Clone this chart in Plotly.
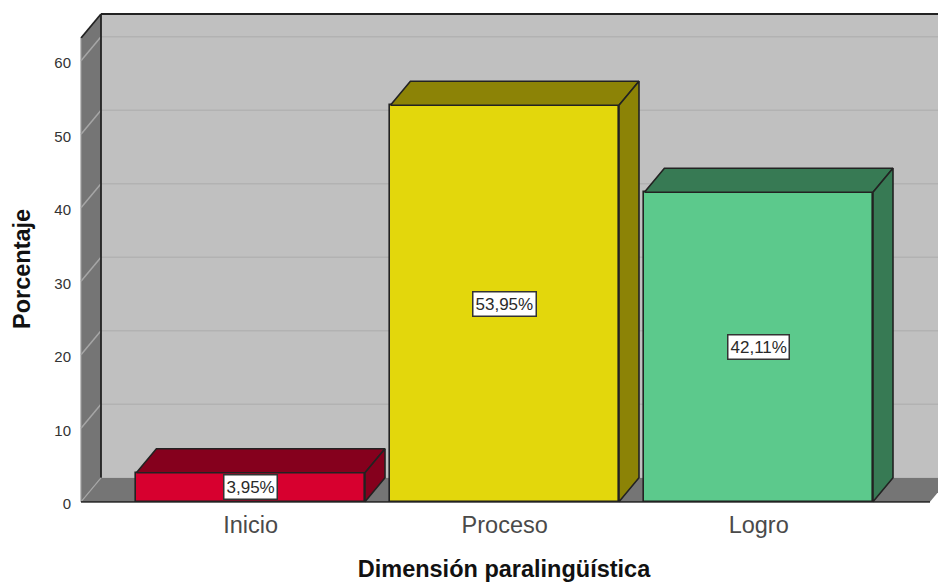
import plotly.graph_objects as go

categories = ["Inicio", "Proceso", "Logro"]
values = [3.95, 53.95, 42.11]
value_labels = ["3,95%", "53,95%", "42,11%"]
y_ticks = [0, 10, 20, 30, 40, 50, 60]
front_colors = ["#D7002F", "#E3D70C", "#5CC98C"]
dark_colors = ["#85001D", "#8C8306", "#377A54"]

W, H = 938, 582
PX_X, PX_Y = 254.0, 7.35      # pixels per category / per percent
X0_PX, Y0_PX = 250.7, 501.8   # pixel of category 0 / of value 0
L, R, T, B = 70, 938, 5, 508  # plot area in pixels
DX, DY = 20 / PX_X, 24 / PX_Y # 3D depth in data units
BAR = 0.9
WALL_L, WALL_R, WALL_TOP = (81 - X0_PX) / PX_X, (930 - X0_PX) / PX_X, 63.1
OUT_R = 3.2

x_range = [(L - X0_PX) / PX_X, (R - X0_PX) / PX_X]
y_range = [(Y0_PX - B) / PX_Y, (Y0_PX - T) / PX_Y]


def poly(pts, fill, line=None, width=0):
    path = "M " + " L ".join(f"{x},{y}" for x, y in pts) + " Z"
    return dict(type="path", path=path, xref="x", yref="y", layer="below", fillcolor=fill,
                line=dict(color=line or fill, width=width))


def seg(a, b, color, width):
    return dict(type="line", xref="x", yref="y", layer="below", x0=a[0], y0=a[1], x1=b[0], y1=b[1],
                line=dict(color=color, width=width))


shapes = [
    poly([(WALL_L + DX, DY), (OUT_R, DY), (OUT_R, WALL_TOP + DY), (WALL_L + DX, WALL_TOP + DY)], "#C0C0C0"),
    poly([(WALL_L, 0), (WALL_L + DX, DY), (WALL_L + DX, WALL_TOP + DY), (WALL_L, WALL_TOP)], "#757575"),
    poly([(WALL_L, 0), (WALL_R, 0), (WALL_R + DX, DY), (WALL_L + DX, DY)], "#757575"),
]
for t in y_ticks[1:]:
    shapes.append(seg((WALL_L + DX, t + DY), (OUT_R, t + DY), "#B2B2B2", 1.5))
    shapes.append(seg((WALL_L, t), (WALL_L + DX, t + DY), "#A6A6A6", 1.5))
shapes += [
    seg((WALL_L + DX, DY), (WALL_L + DX, WALL_TOP + DY), "#222222", 1.8),
    seg((WALL_L + DX, WALL_TOP + DY), (OUT_R, WALL_TOP + DY), "#222222", 1.8),
    seg((WALL_L, WALL_TOP), (WALL_L + DX, WALL_TOP + DY), "#222222", 1.8),
    seg((WALL_L, WALL_TOP), (WALL_L, 0), "#9A9A9A", 1.2),
    seg((WALL_L, 0), (WALL_L + DX, DY), "#A6A6A6", 1.2),
    seg((WALL_L, 0), (WALL_R, 0), "#333333", 1.8),
]

fig = go.Figure()
xs = list(range(len(categories)))
fig.add_trace(go.Bar(x=xs, y=values, width=BAR, marker=dict(color=front_colors, line=dict(color="#222222", width=1.6)),
                     showlegend=False, hoverinfo="skip"))
for i, v in enumerate(values):
    x0, x1 = i - BAR / 2, i + BAR / 2
    top_x = [x0, x0 + DX, x1 + DX, x1, x0]
    top_y = [v, v + DY, v + DY, v, v]
    side_x = [x1, x1 + DX, x1 + DX, x1, x1]
    side_y = [0, DY, v + DY, v, 0]
    for px_, py_ in ((top_x, top_y), (side_x, side_y)):
        fig.add_trace(go.Scatter(x=px_, y=py_, mode="lines", fill="toself", fillcolor=dark_colors[i],
                                 line=dict(color="#222222", width=1.6), showlegend=False, hoverinfo="skip"))

annotations = [
    dict(x=i, y=v / 2, text=value_labels[i], showarrow=False, xref="x", yref="y",
         font=dict(family="Liberation Sans", size=17, color="#2A2A2A"), bgcolor="#FFFFFF",
         bordercolor="#333333", borderwidth=1.5, borderpad=2)
    for i, v in enumerate(values)
]
annotations.append(dict(
    x=(22 - L) / (R - L), y=1 - (269 - T) / (B - T), xref="paper", yref="paper", text="<b>Porcentaje</b>",
    textangle=-90, showarrow=False, xanchor="center", yanchor="middle",
    font=dict(family="Liberation Sans", size=23.5, color="#111111")))

fig.update_layout(
    width=W, height=H, autosize=False,
    margin=dict(l=L, r=W - R, t=T, b=H - B, pad=0),
    paper_bgcolor="#FFFFFF", plot_bgcolor="#FFFFFF", showlegend=False,
    shapes=shapes, annotations=annotations, bargap=0,
    font=dict(family="Liberation Sans", color="#333333"),
    xaxis=dict(range=x_range, tickmode="array", tickvals=xs, ticktext=categories, showgrid=False, zeroline=False,
               showline=False, ticks="", ticklabelstandoff=0, tickfont=dict(size=23.5, color="#4A4A4A"),
               title=dict(text="<b>Dimensión paralingüística</b>", font=dict(size=23.5, color="#111111"), standoff=27)),
    yaxis=dict(range=y_range, tickmode="array", tickvals=y_ticks, showgrid=False, zeroline=False, showline=False,
               ticks="", ticklabelstandoff=-2, ticklabelshift=2, tickfont=dict(size=15, color="#333333")),
)

fig.write_html("out.html", config={"displayModeBar": False},
               post_script="document.body.style.margin='0';document.documentElement.style.overflow='hidden';")
